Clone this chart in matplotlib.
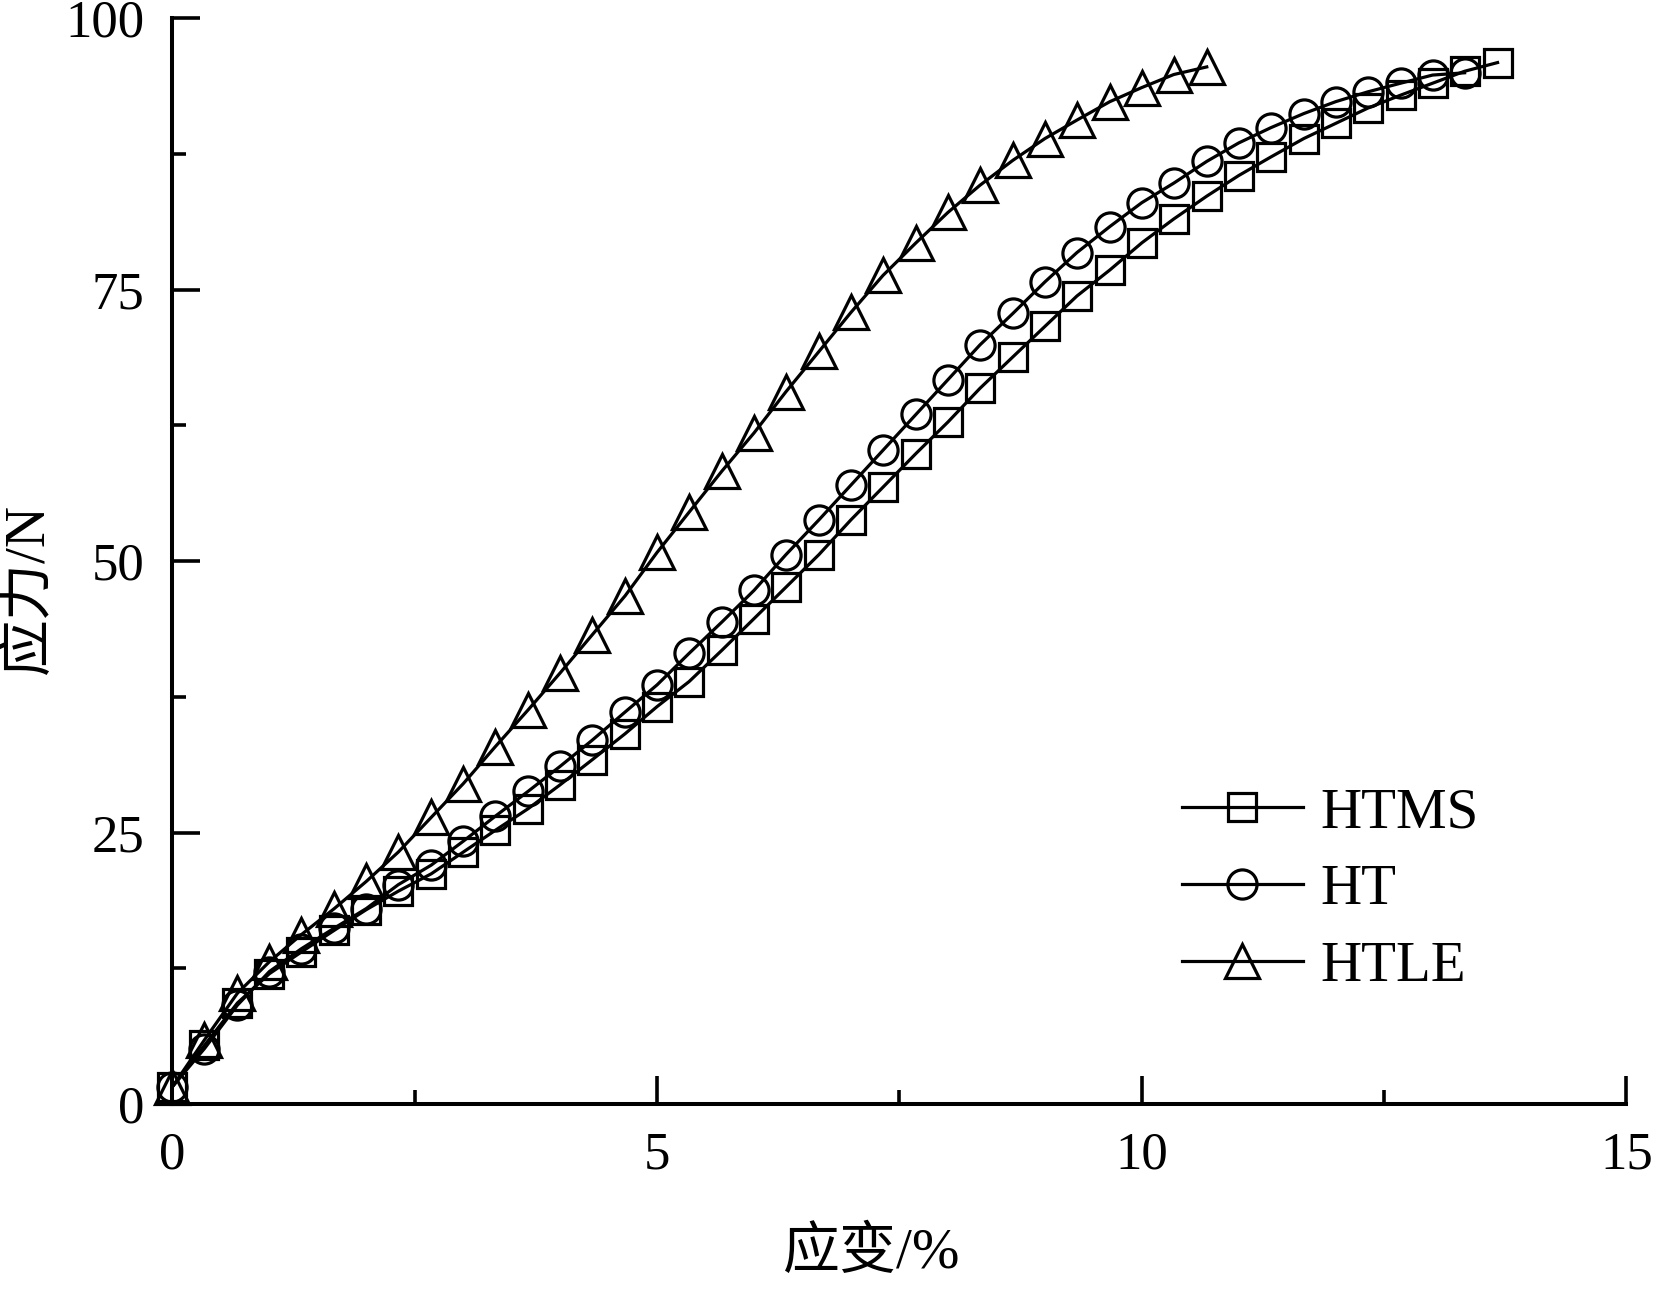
import matplotlib
matplotlib.use("Agg")
import matplotlib.pyplot as plt
from matplotlib.ticker import MultipleLocator

plt.rcParams["font.family"] = ["Liberation Serif", "Noto Sans CJK SC"]

# strain (%) sampled every 1/3 %
strain = [0.0, 0.33, 0.67, 1.0, 1.33, 1.67, 2.0, 2.33, 2.67, 3.0,
          3.33, 3.67, 4.0, 4.33, 4.67, 5.0, 5.33, 5.67, 6.0, 6.33,
          6.67, 7.0, 7.33, 7.67, 8.0, 8.33, 8.67, 9.0, 9.33, 9.67,
          10.0, 10.33, 10.67, 11.0, 11.33, 11.67, 12.0, 12.33, 12.67, 13.0,
          13.33, 13.67]

htms = [1.6, 5.4, 9.3, 12.0, 14.0, 16.0, 17.9, 19.6, 21.2, 23.2,
        25.2, 27.2, 29.4, 31.7, 34.1, 36.6, 38.9, 41.8, 44.7, 47.6,
        50.6, 53.8, 56.8, 59.9, 62.8, 65.9, 68.8, 71.6, 74.4, 76.8,
        79.3, 81.5, 83.6, 85.5, 87.2, 88.9, 90.3, 91.7, 92.9, 94.0,
        95.1, 95.9]

ht = [1.6, 5.1, 9.1, 12.2, 14.3, 16.2, 18.0, 20.2, 22.0, 24.2,
      26.5, 28.8, 31.1, 33.5, 36.1, 38.6, 41.5, 44.4, 47.3, 50.6,
      53.8, 57.0, 60.2, 63.5, 66.7, 69.9, 72.8, 75.7, 78.4, 80.8,
      83.0, 84.8, 86.8, 88.5, 89.9, 91.2, 92.3, 93.2, 94.0, 94.75,
      94.96]

htle = [1.6, 5.9, 10.2, 13.1, 15.6, 18.0, 20.5, 23.2, 26.4, 29.5,
        32.9, 36.3, 39.7, 43.2, 46.8, 50.8, 54.5, 58.3, 61.8, 65.6,
        69.3, 72.9, 76.3, 79.3, 82.1, 84.6, 86.9, 88.9, 90.6, 92.3,
        93.6, 94.8, 95.5]

series = [("HTMS", htms, "s", 19.5), ("HT", ht, "o", 21), ("HTLE", htle, "^", 25)]

fig = plt.figure(figsize=(16.58, 12.89), dpi=100)
ax = fig.add_axes([0.104, 0.1435, 0.877, 0.8425])

for name, vals, mk, ms in series:
    ax.plot(strain[:len(vals)], vals, color="black", lw=2.3, marker=mk,
            markersize=ms, markerfacecolor="none", markeredgecolor="black",
            markeredgewidth=2.3, label=name, clip_on=False)

ax.set_xlim(0, 15)
ax.set_ylim(0, 100)
ax.xaxis.set_major_locator(MultipleLocator(5))
ax.xaxis.set_minor_locator(MultipleLocator(2.5))
ax.yaxis.set_major_locator(MultipleLocator(25))
ax.yaxis.set_minor_locator(MultipleLocator(12.5))

for side in ["top", "right"]:
    ax.spines[side].set_visible(False)
for side in ["left", "bottom"]:
    ax.spines[side].set_linewidth(2.9)

ax.tick_params(which="major", direction="in", length=20, width=2.6,
               labelsize=38, pad=20)
ax.tick_params(which="minor", direction="in", length=10, width=2.6)

ax.set_xlabel("应变/%", fontsize=41, va="center")
ax.xaxis.set_label_coords(0.481, -0.137)
ax.set_ylabel("应力/N", fontsize=41, va="center")
ax.yaxis.set_label_coords(-0.099, 0.475)

ax.legend(loc="center left", bbox_to_anchor=(0.694, 0.197), frameon=False,
          fontsize=41, borderpad=0, borderaxespad=0, handlelength=2.14,
          handletextpad=0.3, labelspacing=0.44)

fig.savefig("out.png", dpi=100)
